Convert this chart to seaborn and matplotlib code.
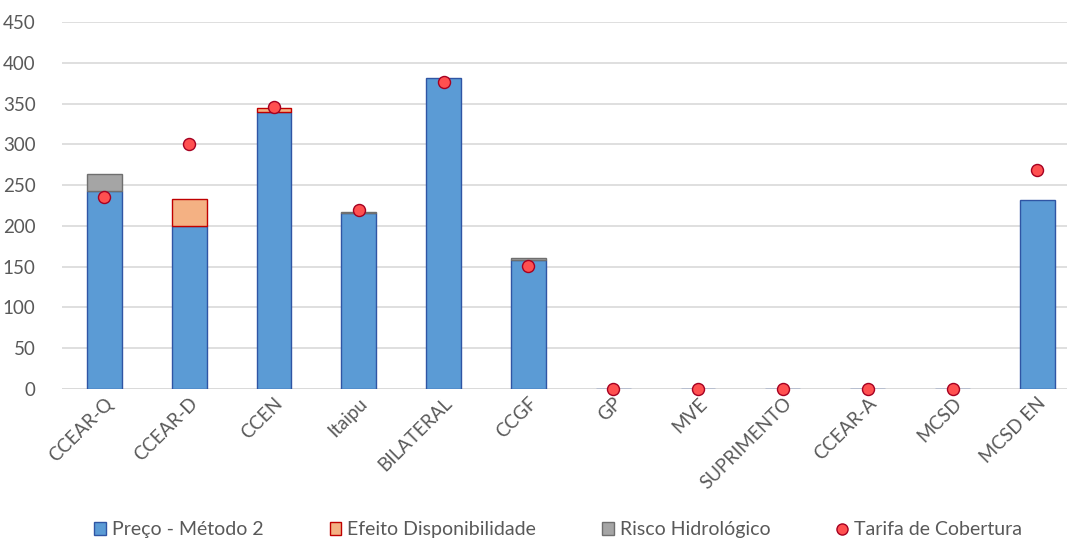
import numpy as np
import pandas as pd
import matplotlib
matplotlib.use("Agg")
import matplotlib.pyplot as plt
import seaborn as sns
from matplotlib.lines import Line2D
from matplotlib.patches import Patch

# ------------------ data ------------------
categorias = ["CCEAR-Q", "CCEAR-D", "CCEN", "Itaipu", "BILATERAL", "CCGF",
              "GP", "MVE", "SUPRIMENTO", "CCEAR-A", "MCSD", "MCSD EN"]
preco_metodo2 = [243, 200, 340, 216, 381, 158, 0, 0, 0, 0, 0, 232]
efeito_disp = [0, 33, 5, 0, 0, 0, 0, 0, 0, 0, 0, 0]
risco_hidro = [21, 0, 0, 1.5, 0, 3, 0, 0, 0, 0, 0, 0]
tarifa_cobertura = [235, 300, 346, 220, 377, 151, 0, 0, 0, 0, 0, 268]

df = pd.DataFrame({"categoria": categorias, "preco": preco_metodo2,
                   "efeito": efeito_disp, "risco": risco_hidro,
                   "tarifa": tarifa_cobertura})
df["pos"] = np.arange(len(df))

# ------------------ style ------------------
sns.set_style("white")
plt.rcParams["font.family"] = ["Lato", "DejaVu Sans"]

azul, azul_borda = "#5B9BD5", "#2F55A4"
rosa, rosa_borda = "#F4B183", "#C00000"
cinza, cinza_borda = "#A5A5A5", "#6F6F6F"
ponto, ponto_borda = "#FF5050", "#A50021"
texto = "#595959"

fig = plt.figure(figsize=(10.67, 5.39), dpi=100)
ax = fig.add_axes([0.0581, 0.2783, 0.9419, 0.6809])

largura = 0.41

sns.barplot(data=df, x="categoria", y="preco", color=azul, width=largura,
            edgecolor=azul_borda, linewidth=1.0, saturation=1, ax=ax, zorder=2)
# empty segments are not drawn (their edges would show as lines)
ef = df[df["efeito"] > 0]
ax.bar(ef["pos"], ef["efeito"], bottom=ef["preco"], width=largura, color=rosa,
       edgecolor=rosa_borda, linewidth=1.0, zorder=2)
ri = df[df["risco"] > 0]
ax.bar(ri["pos"], ri["risco"], bottom=ri["preco"] + ri["efeito"], width=largura,
       color=cinza, edgecolor=cinza_borda, linewidth=1.0, zorder=2)
sns.scatterplot(x=df["pos"], y=df["tarifa"], color=ponto, edgecolor=ponto_borda,
                linewidth=1.0, s=75, ax=ax, zorder=4, clip_on=False)

# ------------------ axes ------------------
ax.set_ylim(0, 450)
ax.set_xlim(-0.5, 11.35)
ax.set_yticks(range(0, 451, 50))
ax.yaxis.grid(True, color="#D9D9D9", linewidth=1.2, zorder=0)
ax.set_axisbelow(True)
for s in ax.spines.values():
    s.set_visible(False)
ax.axhline(0, color="#D9D9D9", linewidth=1.2, zorder=1)
ax.set_xlabel("")
ax.set_ylabel("")
ax.tick_params(axis="y", length=0, pad=19, labelsize=13.5, labelcolor=texto)
ax.tick_params(axis="x", length=0, pad=4, labelsize=13.5, labelcolor=texto)
ax.set_xticks(df["pos"])
ax.set_xticklabels(categorias, rotation=45, ha="right", rotation_mode="anchor")

# ------------------ legend ------------------
handles = [
    Patch(facecolor=azul, edgecolor=azul_borda, label="Preço - Método 2"),
    Patch(facecolor=rosa, edgecolor=rosa_borda, label="Efeito Disponibilidade"),
    Patch(facecolor=cinza, edgecolor=cinza_borda, label="Risco Hidrológico"),
    Line2D([], [], marker="o", linestyle="", markerfacecolor=ponto,
           markeredgecolor=ponto_borda, markersize=8, label="Tarifa de Cobertura"),
]
fig.legend(handles=handles, loc="lower center", bbox_to_anchor=(0.523, -0.031),
           ncol=4, frameon=False, fontsize=14, handlelength=0.6,
           handleheight=0.6, handletextpad=0.3, columnspacing=3.4,
           labelcolor=texto)

fig.savefig("out.png", dpi=100)
